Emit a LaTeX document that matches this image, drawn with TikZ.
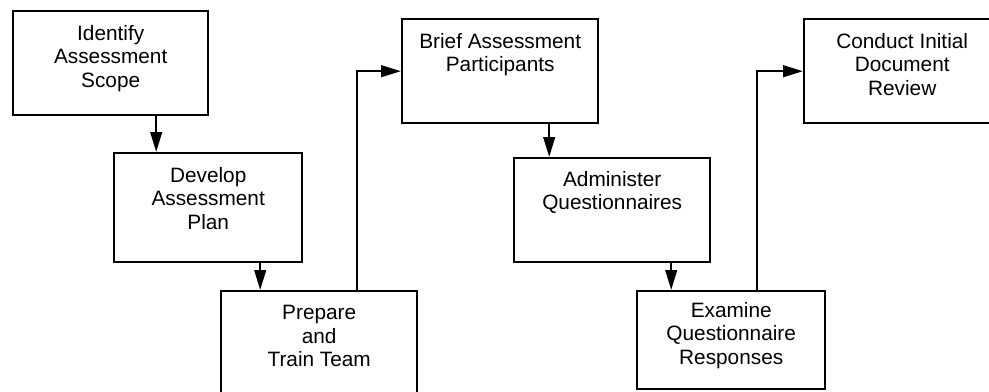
\documentclass[tikz,border=0pt]{standalone}
\usepackage{fontspec}
\setmainfont{Liberation Sans}
\usetikzlibrary{arrows.meta,positioning}
\tikzset{
  stepbox/.style={draw,rectangle,line width=1.2pt,anchor=north west,inner sep=0pt},
  steptext/.style={align=center,inner sep=0pt,font=\fontsize{10.4}{11.75}\selectfont},
  flow/.style={line width=1.2pt,-{Triangle[length=10pt,width=5.8pt]}}
}

\begin{document}
\begin{tikzpicture}[line join=miter,x=0.5pt,y=-0.5pt]
    \useasboundingbox (0,0) rectangle (989,391);

    % Boxes
    \node[stepbox,minimum width=97.5pt,minimum height=52pt] (scope) at (12,10) {};
    \node[stepbox,minimum width=94pt,minimum height=54.5pt] (plan) at (113,152) {};
    \node[stepbox,minimum width=98pt,minimum height=60pt] (train) at (220,290) {};
    \node[stepbox,minimum width=98pt,minimum height=52pt] (brief) at (401,18) {};
    \node[stepbox,minimum width=98pt,minimum height=52pt] (admin) at (513,157) {};
    \node[stepbox,minimum width=94pt,minimum height=49pt] (examine) at (636,290) {};
    \node[stepbox,minimum width=98pt,minimum height=52pt] (review) at (803,18) {};

    % Texts
    \node[steptext,below=7.5pt of scope.north] (scopetext) {Identify\\Assessment\\Scope};
    \node[steptext,below=7.5pt of plan.north] (plantext) {Develop\\Assessment\\Plan};
    \node[steptext,below=7.5pt of train.north] (traintext) {Prepare\\and\\Train Team};
    \node[steptext,below=7.5pt of brief.north] (brieftext) {Brief Assessment\\Participants};
    \node[steptext,below=7pt of admin.north] (admintext) {Administer\\Questionnaires};
    \node[steptext,below=6pt of examine.north] (examinetext) {Examine\\Questionnaire\\Responses};
    \node[steptext,below=7.5pt of review.north] (reviewtext) {Conduct Initial\\Document\\Review};

    % Edges
    \foreach \source/\target/\shift in {scope/plan/22.75pt, plan/train/26pt, brief/admin/24.5pt, admin/examine/29.5pt} {
            \draw[flow] ([xshift=\shift]\source.south) -- ([xshift=\shift]\source.south |- \target.north);
        }
    \draw[flow] ([xshift=19pt]train.north) |- (brief.west);
    \draw[flow] ([xshift=13pt]examine.north) |- (review.west);
\end{tikzpicture}
\end{document}
